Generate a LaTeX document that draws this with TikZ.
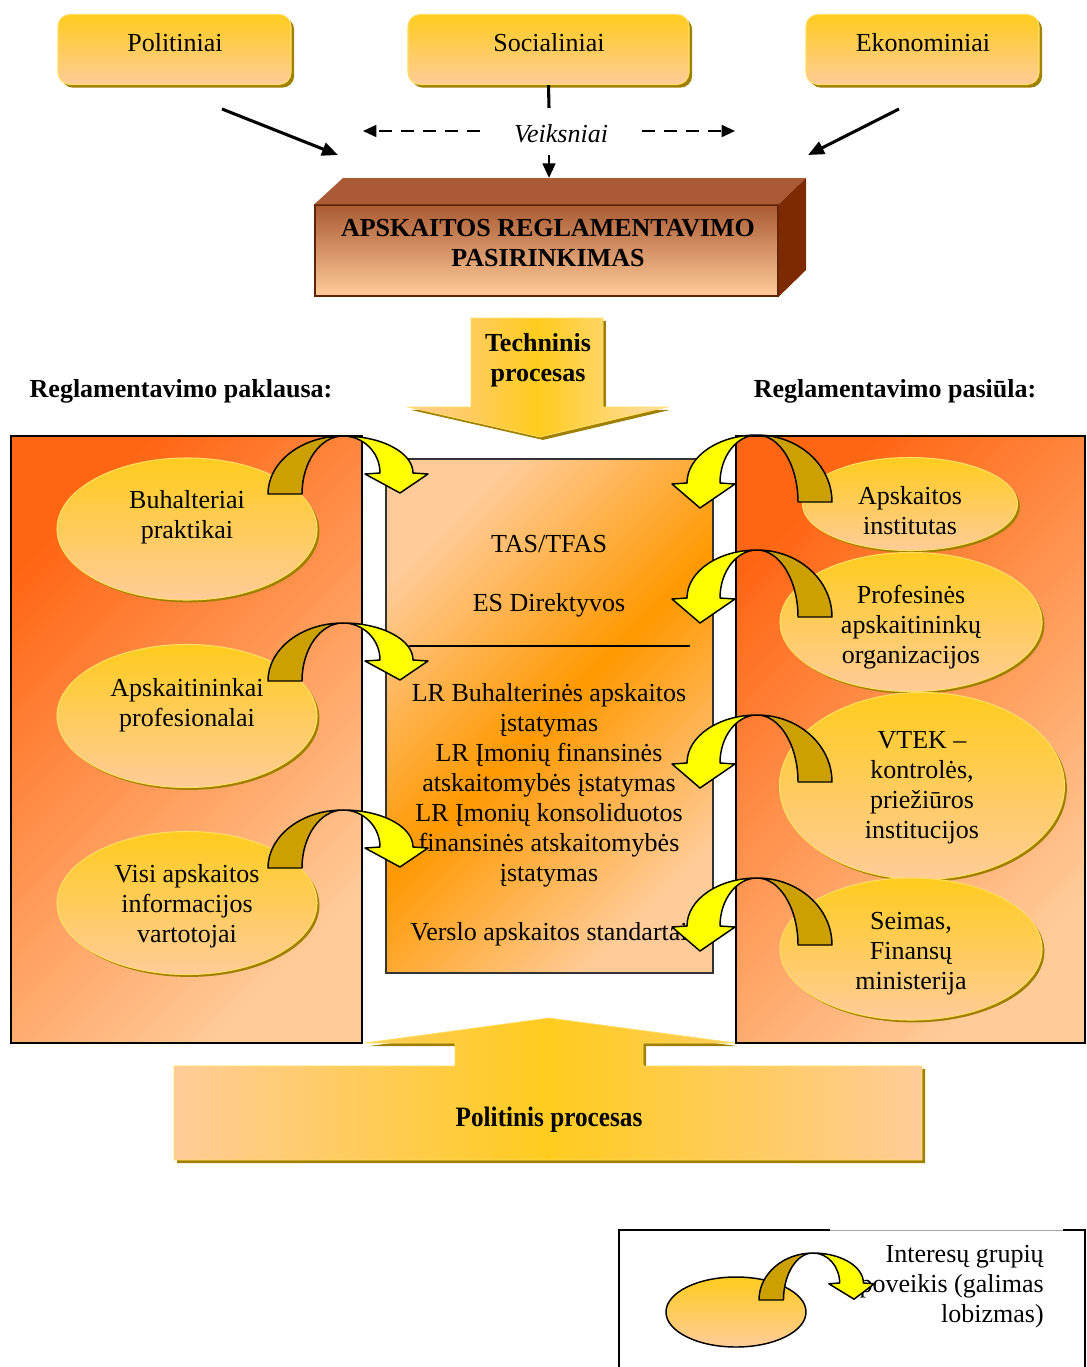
\documentclass[tikz,border=0pt]{standalone}
\usepackage{fontspec}
\setmainfont{Liberation Serif}
\usepackage{graphicx}
\usetikzlibrary{arrows.meta,shapes.geometric,shadows}

\definecolor{gold}{RGB}{255,204,30}
\definecolor{peach}{RGB}{255,204,153}
\definecolor{paleapricot}{RGB}{255,222,170}
\definecolor{olive}{RGB}{160,128,0}
\definecolor{rim}{RGB}{255,222,100}
\definecolor{hotorange}{RGB}{255,102,20}
\definecolor{midorange}{RGB}{255,153,0}
\definecolor{arrowback}{RGB}{204,160,0}
\definecolor{arrowfront}{RGB}{255,255,0}
\definecolor{brickface}{RGB}{170,90,52}
\definecolor{brickside}{RGB}{125,42,0}
\definecolor{brickedge}{RGB}{95,35,5}

% curved influence arrow: dark back band and bright front band with head
% #1 scope options, #2 back band depth, #3 front band depth, #4 tip depth
\newcommand{\bentarrow}[4]{%
  \begin{scope}[#1]
    \filldraw[fill=arrowback, draw=black, line width=1.1pt, line join=round]
      (-75,#2) .. controls (-75,{#2*0.4477}) and (-41.4,0) .. (0,0)
      .. controls (-22.6,0) and (-41,{#2*0.4477}) .. (-41,#2) -- cycle;
    \filldraw[fill=arrowfront, draw=black, line width=1.1pt, line join=round]
      (0,0) .. controls (38.7,0) and (70,{#3*0.4477}) .. (70,#3)
      -- (85,{#3+1}) -- (57,#4) -- (22,{#3+1}) -- (37,#3)
      .. controls (37,{#3*0.4477}) and (20.4,0) .. (0,0) -- cycle;
  \end{scope}}

\begin{document}
\begin{tikzpicture}[x=0.75pt, y=-0.75pt,
  body/.style={font=\fontsize{19.5}{22.5}\selectfont, align=center, inner sep=0pt},
  bodybf/.style={font=\fontsize{19.5}{22.5}\selectfont\bfseries, align=center, inner sep=0pt},
  oliveshadow/.style={drop shadow={opacity=1, fill=olive, shadow xshift=#1, shadow yshift=-#1}},
  factorbox/.style={draw=rim, line width=0.8pt, rounded corners=9pt,
    top color=gold, bottom color=peach, minimum width=233*0.75pt,
    minimum height=70*0.75pt, inner sep=0pt, oliveshadow=2.4pt},
  heavyarrow/.style={line width=2.3pt, -{Triangle[length=12pt, width=10pt]}},
  lightarrow/.style={line width=2pt, -{Triangle[length=11pt, width=9.5pt]}},
  dasharrow/.style={line width=1.3pt, dash pattern=on 10pt off 6.5pt, -{Triangle[length=10pt, width=9pt]}},
  front/.style={draw=brickedge, line width=1pt, top color=brickface, bottom color=peach,
    minimum width=463*0.75pt, minimum height=91*0.75pt, inner sep=0pt},
  chevron/.style={draw=rim, line width=0.6pt, left color=peach, right color=paleapricot,
    middle color=gold, oliveshadow=2.2pt},
  widechevron/.style={draw=rim, line width=0.6pt, left color=peach, right color=peach,
    middle color=gold, oliveshadow=2.4pt},
  panel/.style={draw=black, line width=1pt, top color=hotorange, bottom color=peach,
    shading angle=45, inner sep=0pt},
  stdbox/.style={draw=black!80, line width=1pt, top color=peach, bottom color=peach,
    middle color=midorange, shading angle=45, inner sep=0pt},
  grp/.style={ellipse, draw=rim, line width=0.8pt, top color=gold, bottom color=peach,
    inner sep=0pt, oliveshadow=1.8pt},
]
\useasboundingbox (0,0) rectangle (1086,1367);

% ---------- factor boxes ----------
\node[factorbox] (pol) at (174.5,49.5) {};
\node[factorbox, minimum width=281*0.75pt] (soc) at (548.5,49.5) {};
\node[factorbox] (eko) at (922.5,49.5) {};
\node[body] (polt) at (175,43) {Politiniai};
\node[body] (soct) at (549,43) {Socialiniai};
\node[body] (ekot) at (923,43) {Ekonominiai};

\node[body, font=\fontsize{19.5}{22.5}\selectfont\itshape] (vk) at (561,134) {Veiksniai};

\coordinate (socfoot) at (549,108);
\coordinate (vkl) at (480,131);   \coordinate (vklend) at (363,131);
\coordinate (vkr) at (642,131);   \coordinate (vkrend) at (735,131);
\coordinate (vkdown) at (549,155); \coordinate (choicetop) at (549,178);
\coordinate (polfoot) at (222,109); \coordinate (polend) at (338,155);
\coordinate (ekofoot) at (899,109); \coordinate (ekoend) at (808,155);

\draw[line width=2.3pt] (soc.south) -- (socfoot);
\draw[dasharrow] (vkl) -- (vklend);
\draw[dasharrow] (vkr) -- (vkrend);
\draw[lightarrow] (vkdown) -- (choicetop);
\draw[heavyarrow] (polfoot) -- (polend);
\draw[heavyarrow] (ekofoot) -- (ekoend);

% ---------- regulation choice block ----------
\node[front] (choice) at (546.5,250.5) {};
\fill[brickface] (choice.north west) -- (343,178) -- (806,178) -- (choice.north east) -- cycle;
\fill[brickside] (choice.north east) -- (806,178) -- (806,270) -- (choice.south east) -- cycle;
\node[bodybf] (choicetxt) at (548,243) {APSKAITOS REGLAMENTAVIMO\\PASIRINKIMAS};

% ---------- technical process arrow ----------
\path[chevron] (471,318) -- (603,318) -- (603,407) -- (667,407) -- (540,437)
  -- (408,407) -- (471,407) -- cycle;
\node[bodybf] (tech) at (538,360) {Techninis\\procesas};

\node[bodybf] (demand) at (181,391) {Reglamentavimo paklausa:};
\node[bodybf] (supply) at (895,391) {Reglamentavimo pasiūla:};

% ---------- panels ----------
\node[panel, minimum width=351*0.75pt, minimum height=607*0.75pt] (dem) at (186.5,739.5) {};
\node[panel, minimum width=349*0.75pt, minimum height=607*0.75pt] (sup) at (910.5,739.5) {};
\node[stdbox, minimum width=327*0.75pt, minimum height=514*0.75pt] (std) at (549.5,716) {};
\coordinate (divl) at (409,646); \coordinate (divr) at (690,646);
\draw[line width=1pt] (divl) -- (divr);

% ---------- demand side groups ----------
\node[grp, minimum width=260*0.75pt, minimum height=142*0.75pt] (g1) at (187,529) {};
\node[grp, minimum width=260*0.75pt, minimum height=143*0.75pt] (g2) at (187,716) {};
\node[grp, minimum width=260*0.75pt, minimum height=143*0.75pt] (g3) at (187,903) {};
\node[body] (g1t) at (187,517) {Buhalteriai\\praktikai};
\node[body] (g2t) at (187,705) {Apskaitininkai\\profesionalai};
\node[body] (g3t) at (187,906) {Visi apskaitos\\informacijos\\vartotojai};

% ---------- supply side groups ----------
\node[grp, minimum width=215*0.75pt, minimum height=93*0.75pt] (s1) at (910,504) {};
\node[grp, minimum width=262*0.75pt, minimum height=139*0.75pt] (s2) at (911,622) {};
\node[grp, minimum width=285*0.75pt, minimum height=187*0.75pt] (s3) at (922,786) {};
\node[grp, minimum width=262*0.75pt, minimum height=142*0.75pt] (s4) at (911,949) {};
\node[body] (s1t) at (910,511) {Apskaitos\\institutas};
\node[body] (s2t) at (911,627) {Profesinės\\apskaitininkų\\organizacijos};
\node[body] (s3t) at (922,788) {VTEK --\\kontrolės,\\priežiūros\\institucijos};
\node[body] (s4t) at (911,954) {Seimas,\\Finansų\\ministerija};

% ---------- standards ----------
\node[body] (tas) at (549,544) {TAS/TFAS};
\node[body] (es) at (549,605) {ES Direktyvos};
\node[body] (laws) at (549,785) {LR Buhalterinės apskaitos\\įstatymas\\LR Įmonių finansinės\\atskaitomybės įstatymas\\LR Įmonių konsoliduotos\\finansinės atskaitomybės\\įstatymas};
\node[body] (vas) at (549,934) {Verslo apskaitos standartai};

% ---------- influence arrows ----------
\bentarrow{shift={(343,436)}}{58}{37}{57}
\bentarrow{shift={(343,623)}}{58}{37}{57}
\bentarrow{shift={(343,810)}}{58}{37}{57}
\bentarrow{shift={(757,435)}, xscale=-1}{67}{48}{73}
\bentarrow{shift={(757,550)}, xscale=-1}{67}{48}{73}
\bentarrow{shift={(757,715)}, xscale=-1}{67}{48}{73}
\bentarrow{shift={(757,878)}, xscale=-1}{67}{48}{73}

% ---------- political process arrow ----------
\path[widechevron] (174,1066) -- (455,1066) -- (455,1043) -- (365,1043) -- (549,1018)
  -- (735,1043) -- (643,1043) -- (643,1066) -- (922,1066) -- (922,1160) -- (174,1160) -- cycle;
\node[bodybf] (polproc) at (549,1120) {\scalebox{0.97}[1.08]{Politinis procesas}};

% ---------- legend ----------
\coordinate (lgbl) at (619,1367); \coordinate (lgtl) at (619,1230);
\coordinate (lgta) at (830,1230); \coordinate (lgtb) at (1063,1230);
\coordinate (lgtr) at (1085,1230); \coordinate (lgbr) at (1085,1367);
\draw[line width=1.2pt] (lgbl) -- (lgtl) -- (lgta);
\draw[black!35, line width=0.6pt] (lgta) -- (lgtb);
\draw[line width=1.2pt] (lgtb) -- (lgtr) -- (lgbr);
\node[ellipse, draw=black, line width=1.1pt, top color=gold, bottom color=peach,
  minimum width=140*0.75pt, minimum height=70*0.75pt, inner sep=0pt] (lg) at (736,1312) {};
\node[body, align=right, anchor=east] (lgt) at (1044,1287) {Interesų grupių\\poveikis (galimas\\lobizmas)};
\bentarrow{shift={(813,1253)}, xscale=0.72, yscale=0.81}{58}{37}{57}
\end{tikzpicture}
\end{document}
